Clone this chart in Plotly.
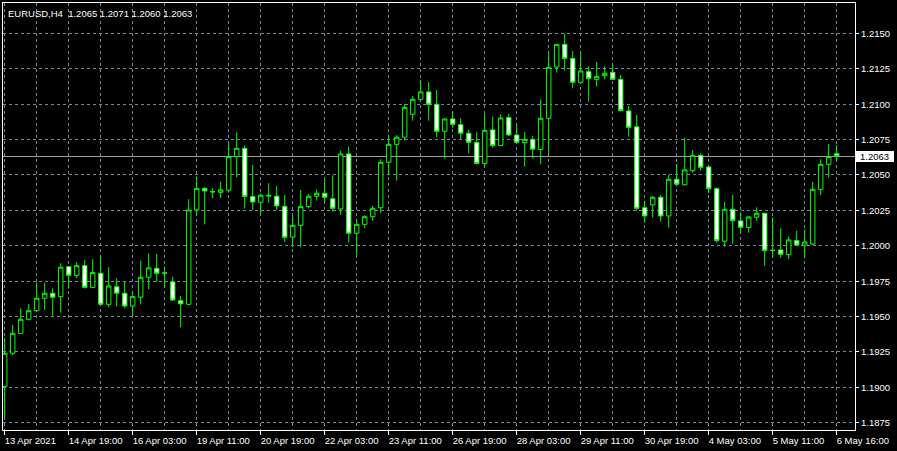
import plotly.graph_objects as go

symbol = "EURUSD"
timeframe = "H4"

open_ = [1.19005, 1.19240, 1.19381, 1.19480, 1.19541, 1.19629, 1.19664, 1.19640, 1.19852, 1.19791,
         1.19859, 1.19706, 1.19805, 1.19586, 1.19710, 1.19664, 1.19574, 1.19636, 1.19777, 1.19840,
         1.19808, 1.19744, 1.19612, 1.19586, 1.20252, 1.20405, 1.20383, 1.20377, 1.20392, 1.20629,
         1.20688, 1.20347, 1.20307, 1.20356, 1.20350, 1.20278, 1.20061, 1.20144, 1.20276, 1.20349,
         1.20370, 1.20332, 1.20260, 1.20648, 1.20088, 1.20151, 1.20205, 1.20268, 1.20589, 1.20716,
         1.20766, 1.20928, 1.21034, 1.21086, 1.20999, 1.20808, 1.20895, 1.20855, 1.20794, 1.20730,
         1.20580, 1.20818, 1.20707, 1.20905, 1.20782, 1.20728, 1.20751, 1.20680, 1.20900, 1.21262,
         1.21422, 1.21323, 1.21154, 1.21230, 1.21175, 1.21201, 1.21225, 1.21175, 1.20952, 1.20840,
         1.20268, 1.20288, 1.20342, 1.20210, 1.20469, 1.20430, 1.20530, 1.20638, 1.20556, 1.20403,
         1.20032, 1.20257, 1.20175, 1.20128, 1.20201, 1.20229, 1.19968, 1.19970, 1.19937, 1.20036,
         1.20003, 1.20012, 1.20398, 1.20575, 1.20650]
high_ = [1.19346, 1.19440, 1.19558, 1.19589, 1.19739, 1.19739, 1.19699, 1.19876, 1.19857, 1.19883,
         1.19899, 1.19904, 1.19932, 1.19848, 1.19770, 1.19746, 1.19664, 1.19895, 1.19946, 1.19942,
         1.19852, 1.19782, 1.19645, 1.20328, 1.20488, 1.20412, 1.20405, 1.20452, 1.20723, 1.20801,
         1.20707, 1.20570, 1.20370, 1.20441, 1.20422, 1.20358, 1.20210, 1.20394, 1.20365, 1.20398,
         1.20471, 1.20497, 1.20671, 1.20700, 1.20182, 1.20215, 1.20281, 1.20610, 1.20775, 1.20780,
         1.21001, 1.21057, 1.21170, 1.21156, 1.21100, 1.20900, 1.20947, 1.20900, 1.20817, 1.20801,
         1.20930, 1.20912, 1.20930, 1.20930, 1.20855, 1.20803, 1.20775, 1.21034, 1.21359, 1.21425,
         1.21500, 1.21375, 1.21363, 1.21269, 1.21298, 1.21265, 1.21276, 1.21206, 1.20987, 1.20923,
         1.20314, 1.20351, 1.20358, 1.20500, 1.20577, 1.20763, 1.20676, 1.20653, 1.20570, 1.20412,
         1.20311, 1.20358, 1.20236, 1.20210, 1.20271, 1.20232, 1.20201, 1.20123, 1.20064, 1.20104,
         1.20116, 1.20450, 1.20610, 1.20718, 1.20710]
low_ = [1.18781, 1.19228, 1.19377, 1.19471, 1.19536, 1.19546, 1.19504, 1.19527, 1.19697, 1.19770,
        1.19697, 1.19702, 1.19574, 1.19565, 1.19570, 1.19558, 1.19504, 1.19586, 1.19692, 1.19746,
        1.19706, 1.19610, 1.19424, 1.19579, 1.20217, 1.20151, 1.20335, 1.20335, 1.20375, 1.20483,
        1.20262, 1.20252, 1.20224, 1.20304, 1.20252, 1.20026, 1.19989, 1.19989, 1.20262, 1.20318,
        1.20304, 1.20241, 1.20217, 1.20022, 1.19935, 1.20125, 1.20177, 1.20229, 1.20500, 1.20460,
        1.20742, 1.20883, 1.21029, 1.20883, 1.20766, 1.20615, 1.20834, 1.20751, 1.20653, 1.20575,
        1.20558, 1.20693, 1.20705, 1.20775, 1.20723, 1.20558, 1.20615, 1.20575, 1.20648, 1.21222,
        1.21236, 1.21112, 1.21142, 1.21017, 1.21123, 1.21175, 1.21170, 1.20947, 1.20770, 1.20248,
        1.20163, 1.20200, 1.20170, 1.20128, 1.20422, 1.20425, 1.20516, 1.20530, 1.20370, 1.20022,
        1.19993, 1.20012, 1.20088, 1.20092, 1.20177, 1.19859, 1.19916, 1.19916, 1.19906, 1.20001,
        1.19911, 1.20005, 1.20358, 1.20481, 1.20600]
close_ = [1.19240, 1.19381, 1.19480, 1.19541, 1.19629, 1.19664, 1.19636, 1.19848, 1.19791, 1.19859,
          1.19706, 1.19810, 1.19586, 1.19716, 1.19664, 1.19574, 1.19640, 1.19777, 1.19843, 1.19805,
          1.19806, 1.19617, 1.19589, 1.20252, 1.20405, 1.20387, 1.20380, 1.20394, 1.20629, 1.20688,
          1.20347, 1.20309, 1.20356, 1.20352, 1.20281, 1.20059, 1.20144, 1.20276, 1.20349, 1.20370,
          1.20342, 1.20264, 1.20648, 1.20088, 1.20151, 1.20205, 1.20264, 1.20589, 1.20716, 1.20766,
          1.20977, 1.21034, 1.21086, 1.20999, 1.20808, 1.20895, 1.20857, 1.20794, 1.20730, 1.20580,
          1.20815, 1.20707, 1.20902, 1.20782, 1.20730, 1.20751, 1.20681, 1.20900, 1.21260, 1.21422,
          1.21323, 1.21154, 1.21234, 1.21180, 1.21196, 1.21218, 1.21175, 1.20954, 1.20836, 1.20264,
          1.20210, 1.20342, 1.20210, 1.20469, 1.20434, 1.20535, 1.20638, 1.20554, 1.20403, 1.20036,
          1.20257, 1.20177, 1.20130, 1.20203, 1.20229, 1.19965, 1.19966, 1.19939, 1.20041, 1.20005,
          1.20026, 1.20398, 1.20575, 1.20630, 1.20630]

time_labels = ["13 Apr 2021", "14 Apr 19:00", "16 Apr 03:00", "19 Apr 11:00", "20 Apr 19:00",
               "22 Apr 03:00", "23 Apr 11:00", "26 Apr 19:00", "28 Apr 03:00", "29 Apr 11:00",
               "30 Apr 19:00", "4 May 03:00", "5 May 11:00", "6 May 16:00"]
price_ticks = [1.1875, 1.1900, 1.1925, 1.1950, 1.1975, 1.2000, 1.2025, 1.2050,
               1.2075, 1.2100, 1.2125, 1.2150]

bar_index = list(range(len(open_)))
label_idx = bar_index[::8]
grid_idx = bar_index[::4]

GREEN = "#00ff00"
GRID = "#778899"
FONT = "Liberation Sans, Arial, sans-serif"
FS = 9.5
Y_RANGE = [1.186982, 1.217142]
PLOT_W = 852.0
PLOT_H = 427.0

fig = go.Figure(go.Candlestick(
    x=bar_index, open=open_, high=high_, low=low_, close=close_,
    increasing=dict(line=dict(color=GREEN, width=1), fillcolor="#000000"),
    decreasing=dict(line=dict(color=GREEN, width=1), fillcolor="#ffffff"),
    whiskerwidth=0, hoverinfo="skip",
))

last = close_[-1]
fig.add_shape(type="line", xref="paper", x0=0, x1=1, yref="y", y0=last, y1=last,
              line=dict(color="#a0a0a0", width=1), layer="below")

# price labels on the right axis
for p in price_ticks:
    fig.add_annotation(
        xref="paper", yref="y", x=1, y=p, xanchor="left", yanchor="middle", xshift=5,
        text=f"{p:.4f}", showarrow=False, align="left", borderpad=0,
        font=dict(color="#ffffff", size=FS, family=FONT),
    )

# current price box
last_py = (last - Y_RANGE[0]) / (Y_RANGE[1] - Y_RANGE[0])
fig.add_shape(type="rect", xref="paper", yref="paper",
              x0=1 + 1 / PLOT_W, x1=1 + 39 / PLOT_W,
              y0=last_py - 5.5 / PLOT_H, y1=last_py + 5.5 / PLOT_H,
              fillcolor="#ffffff", line=dict(width=0), layer="above")
fig.add_annotation(
    xref="paper", yref="y", x=1 + 20 / PLOT_W, y=last, xanchor="center", yanchor="middle",
    text=f"{last:.4f}", showarrow=False, borderpad=0,
    font=dict(color="#000000", size=FS, family=FONT),
)

fig.add_annotation(
    xref="paper", yref="paper", x=0, y=1, xanchor="left", yanchor="top", xshift=4, yshift=-4,
    text=f"{symbol},{timeframe}\u00a0\u00a0{open_[-1]:.4f} {high_[-1]:.4f} {low_[-1]:.4f} {close_[-1]:.4f}",
    showarrow=False, align="left", borderpad=0, font=dict(color="#ffffff", size=FS, family=FONT),
)

fig.update_layout(
    width=897, height=451,
    margin=dict(l=3, r=42, t=3, b=21, autoexpand=False),
    paper_bgcolor="#000000", plot_bgcolor="#000000",
    showlegend=False,
    boxgap=0.3, boxgroupgap=0.2,
    font=dict(family=FONT, size=FS, color="#ffffff"),
    xaxis=dict(
        range=[-0.21, 106.29], rangeslider=dict(visible=False),
        tickmode="array", tickvals=label_idx, ticktext=time_labels, tickangle=0,
        ticks="outside", ticklen=4, tickcolor="#ffffff", tickwidth=1,
        ticklabelposition="outside right", ticklabeloverflow="allow",
        ticklabelshift=-1, ticklabelstandoff=2,
        showgrid=True, gridcolor=GRID, griddash="3px,3px", gridwidth=1,
        minor=dict(tickmode="array", tickvals=grid_idx, showgrid=True, gridcolor=GRID,
                   griddash="3px,3px", gridwidth=1, ticks=""),
        showline=True, linecolor="#ffffff", linewidth=1, mirror=True,
        zeroline=False, automargin=False,
        tickfont=dict(color="#ffffff", size=FS, family=FONT),
    ),
    yaxis=dict(
        side="right", range=Y_RANGE,
        tickmode="array", tickvals=price_ticks, showticklabels=False,
        ticks="outside", ticklen=3, tickcolor="#ffffff", tickwidth=1,
        showgrid=True, gridcolor=GRID, griddash="3px,3px", gridwidth=1,
        showline=True, linecolor="#ffffff", linewidth=1, mirror=True,
        zeroline=False, automargin=False,
    ),
)

fig.write_html(
    "out.html",
    config={"displayModeBar": False},
    post_script="document.body.style.margin='0';document.body.style.background='#000';",
)
